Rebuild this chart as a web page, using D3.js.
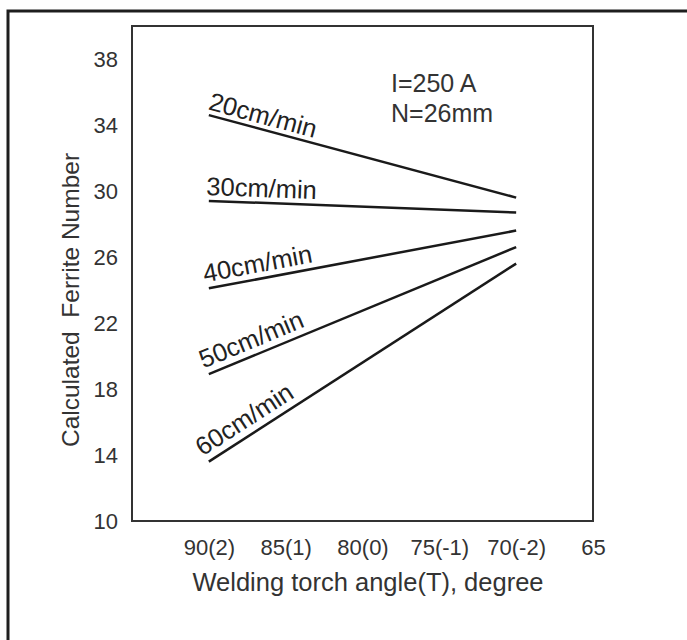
<!DOCTYPE html>
<html>
<head>
<meta charset="utf-8">
<script src="https://cdn.jsdelivr.net/npm/d3@7"></script>
<style>
  body { margin: 0; background: #fff; }
  text { font-family: Arial, "Liberation Sans", sans-serif; fill: #333; }
</style>
</head>
<body>
<svg id="chart"></svg>
<script>
const width = 687;
const height = 640;

// data
const angles = [90, 70];
const speeds = ["20cm/min", "30cm/min", "40cm/min", "50cm/min", "60cm/min"];
const ferrite20 = [34.6, 29.6];
const ferrite30 = [29.4, 28.7];
const ferrite40 = [24.1, 27.6];
const ferrite50 = [18.9, 26.6];
const ferrite60 = [13.6, 25.6];
const xTicks = [90, 85, 80, 75, 70, 65];
const xTickLabels = ["90(2)", "85(1)", "80(0)", "75(-1)", "70(-2)", "65"];
const yTicks = [10, 14, 18, 22, 26, 30, 34, 38];

const series = [ferrite20, ferrite30, ferrite40, ferrite50, ferrite60];

const margin = { left: 132, right: 94, top: 26, bottom: 119 };
const plotW = width - margin.left - margin.right;
const plotH = height - margin.top - margin.bottom;

const svg = d3.select("#chart")
  .attr("width", width)
  .attr("height", height);

// outer frame (runs off the page on right and bottom)
svg.append("rect")
  .attr("x", 8).attr("y", 11)
  .attr("width", 720).attr("height", 720)
  .attr("fill", "none")
  .attr("stroke", "#1e1e1e")
  .attr("stroke-width", 3);

const x = d3.scaleLinear().domain([95, 65]).range([0, plotW]);
const y = d3.scaleLinear().domain([10, 40]).range([plotH, 0]);

const g = svg.append("g")
  .attr("transform", `translate(${margin.left},${margin.top})`);

// plot box
g.append("rect")
  .attr("width", plotW).attr("height", plotH)
  .attr("fill", "none")
  .attr("stroke", "#333")
  .attr("stroke-width", 2);

const xAxis = g.append("g")
  .attr("transform", `translate(0,${plotH})`)
  .call(d3.axisBottom(x)
    .tickValues(xTicks)
    .tickFormat((d, i) => xTickLabels[i])
    .tickSize(0)
    .tickPadding(18));
xAxis.select(".domain").remove();
xAxis.selectAll("text")
  .style("font-size", "22px")
  .style("fill", "#333");

const yAxis = g.append("g")
  .call(d3.axisLeft(y)
    .tickValues(yTicks)
    .tickSize(0)
    .tickPadding(14));
yAxis.select(".domain").remove();
yAxis.selectAll("text")
  .style("font-size", "22px")
  .style("fill", "#333");

// axis titles
svg.append("text")
  .attr("x", 368).attr("y", 591)
  .attr("text-anchor", "middle")
  .style("font-size", "25.5px")
  .text("Welding torch angle(T), degree");

svg.append("text")
  .attr("transform", "translate(79,300) rotate(-90)")
  .attr("text-anchor", "middle")
  .style("font-size", "24.5px")
  .text("Calculated\u00a0\u00a0Ferrite Number");

// lines
const line = d3.line()
  .x((d, i) => x(angles[i]))
  .y(d => y(d));

g.selectAll("path.series")
  .data(series)
  .join("path")
  .attr("class", "series")
  .attr("d", line)
  .attr("fill", "none")
  .attr("stroke", "#1a1a1a")
  .attr("stroke-width", 2.5);

// labels along each line, at its left end
series.forEach((s, k) => {
  const x0 = x(angles[0]), y0 = y(s[0]);
  const x1 = x(angles[1]), y1 = y(s[1]);
  const theta = Math.atan2(y1 - y0, x1 - x0);
  const off = 6;
  const px = x0 - 3 + off * Math.sin(theta);
  const py = y0 - off * Math.cos(theta);
  g.append("text")
    .attr("transform", `translate(${px},${py}) rotate(${theta * 180 / Math.PI})`)
    .style("font-size", "25.5px")
    .style("fill", "#222")
    .text(speeds[k]);
});

// conditions note
const note = svg.append("text")
  .style("font-size", "25px");
note.append("tspan").attr("x", 391).attr("y", 92).text("I=250 A");
note.append("tspan").attr("x", 391).attr("y", 122).text("N=26mm");
</script>
</body>
</html>
